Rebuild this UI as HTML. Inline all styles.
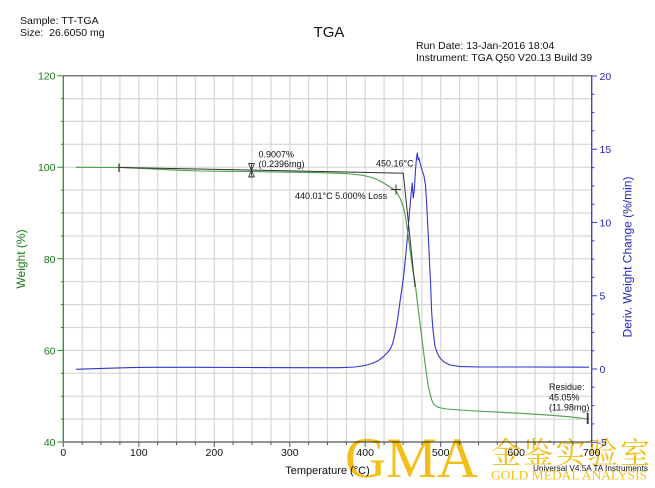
<!DOCTYPE html>
<html>
<head>
<meta charset="utf-8">
<style>
html,body{margin:0;padding:0;background:#fff;}
svg{display:block;}
text{font-family:"Liberation Sans",Arial,sans-serif;}
</style>
</head>
<body>
<svg width="655" height="488" viewBox="0 0 655 488" xmlns="http://www.w3.org/2000/svg">
<rect width="655" height="488" fill="#fff"/>

<!-- header -->
<text x="20" y="24" font-size="10.5" fill="#111">Sample: TT-TGA</text>
<text x="20" y="36" font-size="10.5" fill="#111" xml:space="preserve">Size:  26.6050 mg</text>
<text x="329" y="37" font-size="15" fill="#111" text-anchor="middle">TGA</text>
<text x="416" y="49" font-size="10.5" fill="#111">Run Date: 13-Jan-2016 18:04</text>
<text x="416" y="61" font-size="10.5" fill="#111">Instrument: TGA Q50 V20.13 Build 39</text>

<!-- grid -->
<path d="M82.2 75.7V442M101 75.7V442M119.9 75.7V442M138.8 75.7V442M157.7 75.7V442M176.5 75.7V442M195.4 75.7V442M214.3 75.7V442M233.1 75.7V442M252 75.7V442M270.9 75.7V442M289.8 75.7V442M308.6 75.7V442M327.5 75.7V442M346.4 75.7V442M365.2 75.7V442M384.1 75.7V442M403 75.7V442M421.9 75.7V442M440.7 75.7V442M459.6 75.7V442M478.5 75.7V442M497.3 75.7V442M516.2 75.7V442M535.1 75.7V442M554 75.7V442M572.8 75.7V442" stroke="#d6d6d6" stroke-width="1.2" fill="none"/>
<path d="M63.3 98.6H591.7M63.3 121.4H591.7M63.3 144.3H591.7M63.3 167.2H591.7M63.3 190.1H591.7M63.3 213H591.7M63.3 235.9H591.7M63.3 258.8H591.7M63.3 281.7H591.7M63.3 304.6H591.7M63.3 327.5H591.7M63.3 350.4H591.7M63.3 373.3H591.7M63.3 396.2H591.7M63.3 419.1H591.7" stroke="#d6d6d6" stroke-width="1.2" fill="none"/>

<!-- frame -->
<path d="M63.3 75.7H591.7" stroke="#7a7a7a" stroke-width="1.5"/>
<path d="M63.3 442H591.7" stroke="#555" stroke-width="1.2"/>
<!-- bottom ticks -->
<path d="M63.3 442V447M138.8 442V447M214.3 442V447M289.8 442V447M365.2 442V447M440.7 442V447M516.2 442V447M591.7 442V447M82.2 442V445M101 442V445M119.9 442V445M157.7 442V445M176.5 442V445M195.4 442V445M233.1 442V445M252 442V445M270.9 442V445M308.6 442V445M327.5 442V445M346.4 442V445M384.1 442V445M403 442V445M421.9 442V445M459.6 442V445M478.5 442V445M497.3 442V445M535.1 442V445M554 442V445M572.8 442V445" stroke="#555" stroke-width="1"/>

<!-- left axis -->
<path d="M63.3 75.7V442" stroke="#2e8b2e" stroke-width="1.3"/>
<path d="M57.3 75.7H63.3M57.3 167.2H63.3M57.3 258.8H63.3M57.3 350.4H63.3M57.3 442H63.3M60.8 98.6H63.3M60.8 121.4H63.3M60.8 144.3H63.3M60.8 190.1H63.3M60.8 213H63.3M60.8 235.9H63.3M60.8 281.7H63.3M60.8 304.6H63.3M60.8 327.5H63.3M60.8 373.3H63.3M60.8 396.2H63.3M60.8 419.1H63.3" stroke="#2e8b2e" stroke-width="1"/>
<g font-size="10.5" fill="#157a15" text-anchor="end">
<text x="55.5" y="79.7">120</text>
<text x="55.5" y="171.2">100</text>
<text x="55.5" y="262.8">80</text>
<text x="55.5" y="354.4">60</text>
<text x="55.5" y="446">40</text>
</g>
<text transform="translate(25 259) rotate(-90)" font-size="12" fill="#157a15" text-anchor="middle">Weight (%)</text>

<!-- right axis -->
<path d="M591.7 75.7V442" stroke="#3a3ad6" stroke-width="1.3"/>
<path d="M591.7 76H597M591.7 149.25H597M591.7 222.5H597M591.7 295.75H597M591.7 369H597M591.7 442.25H597M591.7 94.3H594.5M591.7 112.6H594.5M591.7 130.9H594.5M591.7 167.6H594.5M591.7 185.9H594.5M591.7 204.2H594.5M591.7 240.8H594.5M591.7 259.1H594.5M591.7 277.4H594.5M591.7 314.1H594.5M591.7 332.4H594.5M591.7 350.7H594.5M591.7 387.3H594.5M591.7 405.6H594.5M591.7 423.9H594.5" stroke="#3a3ad6" stroke-width="1"/>
<g font-size="10.5" fill="#2424c0">
<text x="599.5" y="80">20</text>
<text x="599.5" y="153.2">15</text>
<text x="599.5" y="226.5">10</text>
<text x="599.5" y="299.7">5</text>
<text x="599.5" y="373">0</text>
<text x="597.5" y="446">-5</text>
</g>
<text transform="translate(631.5 257) rotate(-90)" font-size="12" fill="#2424c0" text-anchor="middle">Deriv. Weight Change (%/min)</text>

<!-- bottom labels -->
<g font-size="10.5" fill="#111" text-anchor="middle">
<text x="63.3" y="456">0</text>
<text x="138.8" y="456">100</text>
<text x="214.3" y="456">200</text>
<text x="289.8" y="456">300</text>
<text x="365.2" y="456">400</text>
<text x="440.7" y="456">500</text>
<text x="516.2" y="456">600</text>
<text x="591.7" y="456">700</text>
</g>
<text x="327.5" y="474" font-size="11" fill="#111" text-anchor="middle">Temperature (°C)</text>
<text x="533" y="471" font-size="8.2" fill="#111">Universal V4.5A TA Instruments</text>

<!-- blue derivative curve -->
<path d="M76 369.3 L90 368.8 L110 368.2 L130 367.6 L150 367.3 L200 367.3 L250 367.5 L300 367.7 L340 367.7 L355 367 L365 365.5 L372 363.5 L378 360.8 L383 357 L387 353 L390 349.5 L392.5 344 L394.5 336 L396.5 326 L398.5 313 L400.5 298 L402 288 L403.5 277 L405.5 258 L407.5 236 L409.5 212 L411 195 L412.3 183 L413.3 198 L414.3 190 L415.5 170 L416.5 158 L417.3 153 L418.2 160 L419 158 L420 163 L422 170 L424 176 L425.5 185 L427 210 L428.5 240 L429.5 262 L430.5 282 L431.7 313 L433 330 L435 346.5 L437.5 353.5 L440 358 L444 362 L450 365 L460 366.6 L480 367 L520 367 L560 367.1 L589 367.2" stroke="#3434d2" stroke-width="1.1" fill="none" stroke-linejoin="round"/>

<!-- green weight curve -->
<path d="M76 167.3 L119 167.5 L140 168.3 L160 169.3 L180 170.3 L200 171 L225 171.3 L251 171.5 L275 171.9 L300 172.3 L320 172.7 L340 173.3 L352 174 L362 175.2 L370 177 L376 179 L381 181.5 L386 184.5 L391 187.5 L396 191 L400 198 L403 206 L405 214 L407 227 L409 242 L411 257 L413 271 L415 282 L418.3 310 L421.7 337 L425 363 L428.3 387 L431.7 400 L434 404.5 L437 406.8 L441 408 L447 409 L460 410 L475 411 L500 412.2 L525 413.6 L550 415.2 L570 416.8 L588 419" stroke="#4a9e4a" stroke-width="1.1" fill="none" stroke-linejoin="round"/>

<!-- construction lines & markers -->
<path d="M119 167.4 L403.3 173.2 L415 287" stroke="#333" stroke-width="1" fill="none"/>
<path d="M119 163.5V172" stroke="#333" stroke-width="1.2"/>
<path d="M251.5 163.5V177M248.5 163.5H254.5M248.5 177H254.5M248.5 163.5L254.5 177M254.5 163.5L248.5 177" stroke="#333" stroke-width="0.9" fill="none"/>
<path d="M391 189.5H401M396 184.5V194.5" stroke="#333" stroke-width="1"/>
<path d="M587.7 413V424" stroke="#333" stroke-width="1.8"/>

<!-- annotations -->
<g font-size="9" fill="#111">
<text x="258.5" y="157.5">0.9007%</text>
<text x="258.5" y="167">(0.2396mg)</text>
<text x="376" y="166.5">450.16°C</text>
<text x="295" y="199">440.01°C 5.000% Loss</text>
<text x="549" y="390">Residue:</text>
<text x="549" y="400.3">45.05%</text>
<text x="549" y="410.6">(11.98mg)</text>
</g>

<!-- watermark -->
<g fill="#f2bf17" style="mix-blend-mode:multiply">
<text x="345" y="477" font-size="57" style="font-family:'Liberation Serif',serif">GMA</text>
<text x="491" y="463.5" font-size="30" textLength="159" lengthAdjust="spacing" style="font-family:'Liberation Serif','Noto Serif CJK SC','Noto Sans CJK SC',serif">金鉴实验室</text>
<text x="491" y="479.5" font-size="13" textLength="156" lengthAdjust="spacingAndGlyphs" style="font-family:'Liberation Serif',serif">GOLD MEDAL ANALYSIS</text>
</g>
</svg>
</body>
</html>
